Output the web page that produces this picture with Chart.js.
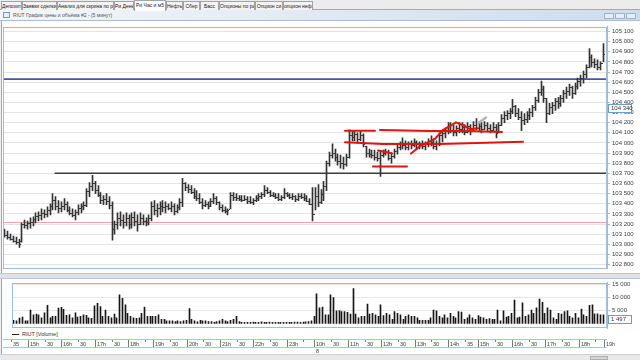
<!DOCTYPE html>
<html>
<head>
<meta charset="utf-8">
<script src="https://cdn.jsdelivr.net/npm/chart.js@4.4.1/dist/chart.umd.min.js"></script>
<style>
*{box-sizing:border-box}
html,body{margin:0;padding:0;width:640px;height:360px;overflow:hidden;background:#efefef;font-family:"Liberation Sans",Arial,sans-serif;}
.a{position:absolute}
#tabs{left:0;top:0;width:640px;height:10px;background:#ececec;border-bottom:1px solid #a9a9a9}
.tab{position:absolute;top:1px;height:9px;font-size:5px;line-height:8px;color:#222;border:1px solid #a3a3a3;border-bottom:none;background:#f3f3f3;text-align:center;white-space:nowrap;overflow:hidden}
.tab.on{background:#fff;top:0;height:11px;z-index:2}
#title{left:0;top:10px;width:640px;height:11px;background:linear-gradient(90deg,#f4f7fb 0%,#e4ecf5 40%,#cddcec 100%);border-bottom:1px solid #a5bdd5}
#title span{position:absolute;left:13px;top:2px;font-size:5px;line-height:6px;color:#555;white-space:nowrap}
#ico{left:3px;top:2px;width:7px;height:6px;border:1px solid #7f98b3;background:#e8eef5}
.btn{top:3px;width:10px;height:6px;border:1px solid #9db3ca;background:#e6edf5}
#pp{left:1px;top:21px;width:639px;height:252px;background:#fff;border-left:1px solid #86acd0}
#split{left:0;top:273px;width:640px;height:6px;background:#e2e2e2;border-top:1px solid #b8c8d8;border-bottom:1px solid #b8c8d8}
#vp{left:1px;top:279px;width:639px;height:75px;background:#fff;border-left:1px solid #86acd0}
#strip{left:3px;top:339px;width:604px;height:9px;border-top:1px solid #a9c4dc;border-bottom:1px solid #a9c4dc;background:#fbfcfe}
#leg{left:12px;top:331px;font-size:5.5px;line-height:6px;color:#333;white-space:nowrap}
#leg i{display:inline-block;width:7px;height:1.5px;background:#222;vertical-align:middle;margin-right:3px}
#sb{left:0;top:354px;width:640px;height:6px;background:#e9e9e9;border-top:1px solid #cfcfcf}
#thumb{left:590px;top:1px;width:18px;height:4px;background:#d4d4d4;border:1px solid #b0b0b0}
canvas{position:absolute;left:0}
</style>
</head>
<body>
<div id="tabs" class="a">
 <div class="tab" style="left:1px;width:21px">Депозит</div>
 <div class="tab" style="left:22px;width:35px">Заявки сделки</div>
 <div class="tab" style="left:57px;width:57px">Анализ для скрина по ри</div>
 <div class="tab" style="left:114px;width:20px">Ри День</div>
 <div class="tab on" style="left:134px;width:32px">Ри Час и м5</div>
 <div class="tab" style="left:166px;width:17px">Нефть</div>
 <div class="tab" style="left:183px;width:17px">Сбер</div>
 <div class="tab" style="left:200px;width:19px">Басс</div>
 <div class="tab" style="left:219px;width:36px">Опционы по ри</div>
 <div class="tab" style="left:255px;width:28px">Опцион си</div>
 <div class="tab" style="left:283px;width:30px">опцион нефть</div>
</div>
<div id="title" class="a"><div id="ico" class="a"></div><span>RIUT График цены и объёма #2 - (5 минут)</span>
 <div class="btn a" style="left:604px"></div><div class="btn a" style="left:615px"></div><div class="btn a" style="left:626px"></div>
</div>
<div id="pp" class="a"></div>
<div id="split" class="a"></div>
<div id="vp" class="a"></div>
<div id="strip" class="a"></div>
<div id="leg" class="a"><i></i>RIUT [Volume]</div>
<canvas id="price" width="640" height="253" style="top:21px"></canvas>
<canvas id="vol" width="640" height="80" style="top:277px"></canvas>
<div id="sb" class="a"><div id="thumb" class="a"></div></div>
<script>
// ---- data (5-minute bars, RIUT) ----
const HIGH = [
103150,103130,103100,103080,103070,103050,103210,103240,103230,103260,
103270,103310,103320,103350,103340,103370,103400,103500,103470,103430,
103420,103450,103420,103370,103350,103340,103390,103400,103420,103550,
103610,103680,103620,103580,103510,103480,103500,103470,103420,103230,
103310,103320,103290,103310,103290,103310,103320,103290,103310,103290,
103260,103290,103420,103430,103400,103420,103430,103420,103400,103420,
103400,103390,103450,103650,103610,103590,103580,103550,103530,103500,
103450,103430,103420,103450,103500,103470,103420,103390,103370,103350,
103510,103510,103500,103480,103480,103480,103470,103470,103450,103480,
103500,103510,103580,103560,103530,103510,103500,103500,103480,103550,
103510,103500,103500,103480,103500,103500,103500,103480,103450,103560,
103560,103590,103540,103620,103820,103910,103990,103940,103890,103880,
103860,103890,104130,104120,104120,104100,104120,104090,103970,103940,
103930,103930,103910,103910,103930,103940,103930,103890,103940,103990,
104010,104050,104020,104010,104020,104040,104020,104010,104020,104010,
104040,104070,104040,104020,104100,104130,104150,104200,104200,104180,
104170,104200,104200,104180,104200,104180,104210,104240,104210,104200,
104210,104200,104180,104200,104180,104200,104280,104310,104320,104340,
104430,104370,104340,104310,104290,104310,104340,104370,104450,104530,
104610,104560,104440,104390,104400,104440,104450,104470,104520,104550,
104580,104560,104590,104640,104670,104710,104770,104930,104870,104830,
104820,104800,104980];
const LOW = [
103070,103050,103040,103020,103000,102970,103020,103160,103150,103160,
103180,103210,103230,103240,103260,103270,103290,103340,103340,103310,
103320,103340,103320,103290,103270,103240,103290,103310,103340,103370,
103470,103530,103500,103470,103400,103390,103390,103350,103040,103100,
103150,103180,103160,103180,103150,103160,103180,103130,103190,103190,
103180,103190,103230,103290,103270,103290,103320,103310,103340,103320,
103290,103310,103340,103370,103530,103510,103500,103450,103430,103400,
103350,103370,103350,103370,103400,103390,103340,103320,103310,103290,
103350,103430,103430,103430,103420,103430,103400,103400,103390,103420,
103430,103450,103470,103500,103470,103470,103450,103430,103430,103450,
103470,103450,103440,103420,103430,103450,103430,103420,103390,103230,
103340,103370,103400,103430,103530,103770,103850,103820,103780,103750,
103740,103770,103850,104020,104020,104010,104020,103960,103860,103860,
103850,103830,103820,103670,103860,103880,103830,103800,103850,103890,
103930,103940,103930,103930,103940,103960,103930,103940,103940,103930,
103960,103970,103940,103930,103970,104010,104050,104090,104100,104070,
104070,104100,104100,104080,104100,104080,104120,104130,104120,104100,
104130,104120,104100,104120,104050,104100,104170,104200,104230,104240,
104290,104260,104230,104120,104180,104200,104230,104260,104320,104400,
104470,104400,104200,104280,104290,104320,104340,104360,104400,104440,
104470,104440,104480,104530,104560,104590,104640,104740,104750,104740,
104720,104720,104800];
const OPEN = [
103130,103090,103070,103050,103030,103020,103030,103200,103190,103210,
103220,103250,103280,103290,103310,103300,103340,103380,103440,103380,
103360,103380,103400,103340,103310,103290,103320,103360,103380,103390,
103530,103580,103600,103540,103490,103440,103450,103430,103390,103150,
103200,103260,103240,103220,103260,103200,103270,103230,103200,103260,
103230,103220,103260,103380,103340,103360,103380,103370,103380,103360,
103380,103330,103370,103420,103600,103570,103550,103520,103480,103460,
103420,103390,103400,103380,103430,103460,103420,103370,103340,103330,
103350,103490,103470,103460,103450,103440,103450,103430,103420,103440,
103460,103480,103500,103540,103520,103490,103480,103470,103450,103470,
103510,103490,103470,103480,103450,103480,103470,103460,103430,103400,
103300,103480,103420,103500,103580,103800,103880,103900,103860,103820,
103800,103790,103860,104080,104060,104090,104040,104080,103970,103900,
103890,103880,103860,103850,103880,103900,103910,103850,103870,103920,
103960,103990,103980,103960,103990,103980,104010,103960,103990,103970,
103990,104020,104010,103970,104000,104080,104100,104130,104170,104130,
104110,104150,104140,104160,104110,104170,104120,104180,104150,104170,
104140,104180,104150,104130,104160,104100,104180,104250,104280,104300,
104320,104360,104300,104260,104230,104240,104280,104310,104350,104420,
104500,104530,104440,104300,104350,104370,104410,104390,104440,104490,
104510,104550,104490,104560,104610,104640,104680,104750,104850,104800,
104780,104750,104790];
const CLOSE = [
103090,103070,103050,103030,103020,103000,103200,103190,103210,103220,
103250,103280,103290,103310,103300,103340,103380,103440,103380,103360,
103380,103400,103340,103310,103290,103320,103360,103380,103390,103530,
103580,103600,103540,103490,103440,103450,103430,103390,103150,103200,
103260,103240,103220,103260,103200,103270,103230,103200,103260,103230,
103220,103260,103380,103340,103360,103380,103370,103380,103360,103380,
103330,103370,103420,103600,103570,103550,103520,103480,103460,103420,
103390,103400,103380,103430,103460,103420,103370,103340,103330,103340,
103490,103470,103460,103450,103440,103450,103430,103420,103440,103460,
103480,103500,103540,103520,103490,103480,103470,103450,103470,103510,
103490,103470,103480,103450,103480,103470,103460,103430,103400,103300,
103480,103420,103500,103580,103800,103880,103900,103860,103820,103800,
103790,103860,104080,104060,104090,104040,104080,103990,103900,103890,
103880,103860,103850,103880,103900,103910,103850,103870,103920,103960,
103990,103980,103960,103990,103980,104010,103960,103990,103970,103990,
104020,104010,103970,104000,104080,104100,104130,104170,104130,104110,
104150,104140,104160,104110,104170,104120,104180,104150,104170,104140,
104180,104150,104130,104160,104100,104180,104250,104280,104300,104320,
104360,104300,104260,104230,104240,104280,104310,104350,104420,104500,
104530,104440,104300,104350,104370,104410,104390,104440,104490,104510,
104550,104490,104560,104610,104640,104680,104750,104850,104800,104780,
104750,104790,104880];
const VOLUME = [
1200,1000,2000,2400,1000,1000,5100,3300,3600,3300,
2100,4000,6900,2100,2700,2700,5900,6200,5400,3100,
3300,2100,4000,2400,2700,3300,3100,2100,1900,6700,
7700,6500,2700,5100,2700,2100,3600,2100,11000,9600,
7100,3900,2700,2100,1900,2100,3900,6300,2700,2700,
2700,2700,3300,1500,1500,1000,1000,1000,700,1000,
700,1000,1200,5700,1500,1000,600,1200,1000,1000,
700,700,400,700,1000,1500,1000,700,1200,1500,
2700,700,400,400,400,400,500,400,400,600,
400,400,500,400,400,400,400,400,400,400,
400,500,500,400,500,600,700,1000,2700,11400,
6000,6300,3300,3300,11000,9900,4800,4900,4500,4500,
4200,3600,13400,3600,2100,2700,2700,7400,3600,3900,
3300,2700,7100,3000,3900,3300,1500,4500,3900,3300,
1500,2700,3300,2700,2700,2100,1200,1200,1200,1200,
2100,5100,4800,2700,2100,3300,2100,3900,2700,2100,
4500,4300,1500,2100,3300,2100,1500,3000,2400,2100,
1500,1800,1500,1500,5100,1000,4800,2400,2700,3900,
9000,2100,2400,7900,2700,3300,5100,3900,6000,9300,
8100,3900,6000,5100,2100,1500,3900,3600,4500,4800,
2700,2100,3900,2100,5500,3300,2700,6900,7100,3700,
3700,3300,3300];

const PRICE_TICKS = [102800,102900,103000,103100,103200,103300,103400,103500,103600,103700,103800,103900,
                     104000,104100,104200,104300,104400,104500,104600,104700,104800,104900,105000,105100];
const VOLUME_TICKS = [5000,10000,15000];
const TIME_TICK_IDX  = [0,6,12,18,24,30,36,42,48,51,57,63,69,75,81,87,93,99,105,109,115,121,127,133,139,145,151,157,163,168,174,180,186,192,198,204,210,213];
const TIME_TICK_TEXT = ['35','15h','30','16h','30','17h','30','18h','','19h','30','20h','30','21h','30','22h','30','23h','','10h','30','11h','30','12h','30','13h','30','14h','35','15h','30','16h','30','17h','30','18h','','19h'];
const DATE_MARK_IDX = [109];
const DATE_MARK_TEXT = ['8'];

// horizontal levels: [start index, price]
const LEVEL_BLACK = [18, 103700];
const LEVEL_BLUE  = [-0.5, 104630];
const LEVEL_PINK  = [-0.5, 103215];
// hand-drawn annotations as [index, price] points
const MARK_A = [[120.7,104120],[131.3,104120]];
const MARK_B = [[133.1,104127],[150.8,104117],[163.2,104117],[176.3,104108]];
const MARK_C = [[120.7,104007],[134.1,103990],[154.4,103990],[183.8,104012]];
const MARK_D = [[130.6,103767],[142.7,103767]];
const MARK_E = [[144.1,103895],[147.6,103974],[152.6,104041],[155.4,104127],[157.2,104155]];
const MARK_F = [[157.2,104155],[160,104203],[162.5,104175],[165,104136],[167.8,104146]];
const MARK_G = [[132.4,103926],[137.3,103898]];
const MARK_PEN = [[167.8,104194],[170.6,104251]];
const CURSOR_PRICE = 104340;
const CURSOR_VOLUME = 1497;

const X_MIN = -0.5, X_MAX = 213.5;
const fmt = v => String(v).replace(/\B(?=(\d{3})+(?!\d))/g, ' ');
const FONT = 'Liberation Sans';

const pts = arr => arr.map(p => ({x: p[0], y: p[1]}));
const lineDs = (data, color, width, order) => ({type:'line', data, borderColor:color, borderWidth:width,
  pointRadius:0, tension:0, borderCapStyle:'round', borderJoinStyle:'round', order});

// shift 1px-wide bars by half a pixel so they land on whole pixels
const crisp = {
  id:'crisp',
  beforeDatasetDraw(chart, args){ if (chart.data.datasets[args.index].type === 'bar') { chart.ctx.save(); chart.ctx.translate(0.5, 0); } },
  afterDatasetDraw(chart, args){ if (chart.data.datasets[args.index].type === 'bar') chart.ctx.restore(); }
};
const frame = {
  id:'frame',
  afterDraw(chart){
    const {ctx, chartArea:a} = chart;
    ctx.save(); ctx.strokeStyle='#9dbdda'; ctx.lineWidth=1;
    ctx.strokeRect(Math.round(a.left)+0.5, Math.round(a.top)+0.5, Math.round(a.right-a.left)-1, Math.round(a.bottom-a.top)-1);
    ctx.restore();
  }
};
const ohlcTicks = {
  id:'ohlcTicks',
  afterDatasetDraw(chart, args){
    if (args.index !== 0) return;
    const {ctx, scales:{x, y}} = chart;
    ctx.save(); ctx.fillStyle='#3a3a3a';
    for (let i = 0; i < OPEN.length; i++) {
      const px = Math.round(x.getPixelForValue(i));
      ctx.fillRect(px-1, Math.round(y.getPixelForValue(OPEN[i])), 1, 1);
      ctx.fillRect(px+1, Math.round(y.getPixelForValue(CLOSE[i])), 1, 1);
    }
    ctx.restore();
  }
};
function axisBox(chart, value, text){
  const {ctx, scales:{y}, chartArea:a} = chart;
  const py = Math.round(y.getPixelForValue(value));
  const x0 = Math.round(a.right) + 1;
  ctx.save();
  ctx.fillStyle='#ffffff'; ctx.fillRect(x0, py-4, 24, 9);
  ctx.strokeStyle='#6a9ccc'; ctx.lineWidth=1; ctx.strokeRect(x0+0.5, py-3.5, 23, 8);
  ctx.fillStyle='#333'; ctx.font='6px "'+FONT+'"'; ctx.textBaseline='middle';
  ctx.fillText(text, x0+3, py+0.5);
  ctx.restore();
}
const priceBox = {id:'priceBox', afterDraw(c){ axisBox(c, CURSOR_PRICE, fmt(CURSOR_PRICE)); }};
const volBox = {id:'volBox', afterDraw(c){ axisBox(c, CURSOR_VOLUME, fmt(CURSOR_VOLUME)); }};
const timeMarks = {
  id:'timeMarks',
  afterDraw(chart){
    const {ctx, scales:{x}, chartArea:a} = chart;
    const top = Math.round(a.bottom) + 12;
    ctx.save(); ctx.strokeStyle='#7a7a7a'; ctx.lineWidth=1;
    TIME_TICK_IDX.forEach((v,k)=>{
      const px = Math.round(x.getPixelForValue(v)) - 1.5;
      const major = /h$/.test(TIME_TICK_TEXT[k]);
      ctx.beginPath(); ctx.moveTo(px, top); ctx.lineTo(px, top + (major ? 7 : 2)); ctx.stroke();
    });
    ctx.restore();
  }
};

new Chart(document.getElementById('price'), {
  type:'bar',
  data:{datasets:[
    {type:'bar', data: HIGH.map((h,i)=>({x:i, y:[LOW[i], h]})), backgroundColor:'#333333', barThickness:1, order:3},
    lineDs([{x:LEVEL_BLACK[0],y:LEVEL_BLACK[1]},{x:X_MAX,y:LEVEL_BLACK[1]}], '#3b3b3b', 1.5, 5),
    lineDs([{x:LEVEL_BLUE[0],y:LEVEL_BLUE[1]},{x:X_MAX,y:LEVEL_BLUE[1]}], '#4f4fae', 1.6, 5),
    lineDs([{x:LEVEL_PINK[0],y:LEVEL_PINK[1]},{x:X_MAX,y:LEVEL_PINK[1]}], '#eba49c', 1, 5),
    lineDs(pts(MARK_A), '#e2140e', 2, 1),
    lineDs(pts(MARK_B), '#e2140e', 2, 1),
    lineDs(pts(MARK_C), '#e2140e', 2, 1),
    lineDs(pts(MARK_D), '#e2140e', 2, 1),
    lineDs(pts(MARK_E), '#e2140e', 2, 1),
    lineDs(pts(MARK_F), '#e2140e', 2, 1),
    lineDs(pts(MARK_G), '#e2140e', 2, 1),
    lineDs(pts(MARK_PEN), '#b4b4b4', 2.5, 0)
  ]},
  options:{
    responsive:false, animation:false, devicePixelRatio:1,
    layout:{padding:{left:3, right:0, top:1, bottom:2}},
    plugins:{legend:{display:false}, tooltip:{enabled:false}},
    scales:{
      x:{type:'linear', min:X_MIN, max:X_MAX, display:false, offset:false, alignToPixels:true},
      y:{position:'right', min:102762, max:105148,
         afterBuildTicks:s=>{ s.ticks = PRICE_TICKS.map(v=>({value:v})); },
         afterFit:s=>{ s.width = 33; },
         ticks:{font:{size:6, family:FONT}, color:'#3c3c3c', padding:2, callback:v=>fmt(v)},
         grid:{color:'#e4e4e4', tickLength:3, tickColor:'#9dbdda'},
         border:{color:'#9dbdda'}}
    }
  },
  plugins:[crisp, ohlcTicks, frame, priceBox]
});

new Chart(document.getElementById('vol'), {
  type:'bar',
  data:{datasets:[
    {type:'bar', data: VOLUME.map((v,i)=>({x:i, y:v})), backgroundColor:'#161616', barThickness:1}
  ]},
  options:{
    responsive:false, animation:false, devicePixelRatio:1,
    layout:{padding:{left:3, right:0, top:2, bottom:0}},
    plugins:{legend:{display:false}, tooltip:{enabled:false}},
    scales:{
      x:{type:'linear', min:X_MIN, max:X_MAX, offset:false, alignToPixels:true,
         afterBuildTicks:s=>{ s.ticks = TIME_TICK_IDX.map(v=>({value:v})); },
         afterFit:s=>{ s.height = 29; },
         grid:{display:false, drawTicks:false}, border:{display:false},
         ticks:{autoSkip:false, maxRotation:0, align:'start', padding:13, color:'#3c3c3c',
                font:{size:5.5, family:FONT, lineHeight:1.25},
                callback:(v)=>{ const k = TIME_TICK_IDX.indexOf(v); const d = DATE_MARK_IDX.indexOf(v);
                  const t = k>=0 ? TIME_TICK_TEXT[k] : ''; return d>=0 ? [t, DATE_MARK_TEXT[d]] : t; }}},
      y:{position:'right', min:-1800, max:15700,
         afterBuildTicks:s=>{ s.ticks = VOLUME_TICKS.map(v=>({value:v})); },
         afterFit:s=>{ s.width = 33; },
         ticks:{font:{size:6, family:FONT}, color:'#3c3c3c', padding:2, callback:v=>fmt(v)},
         grid:{color:'#e6e6e6', tickLength:3, tickColor:'#9dbdda'},
         border:{color:'#9dbdda'}}
    }
  },
  plugins:[crisp, frame, volBox, timeMarks]
});
</script>
</body>
</html>
